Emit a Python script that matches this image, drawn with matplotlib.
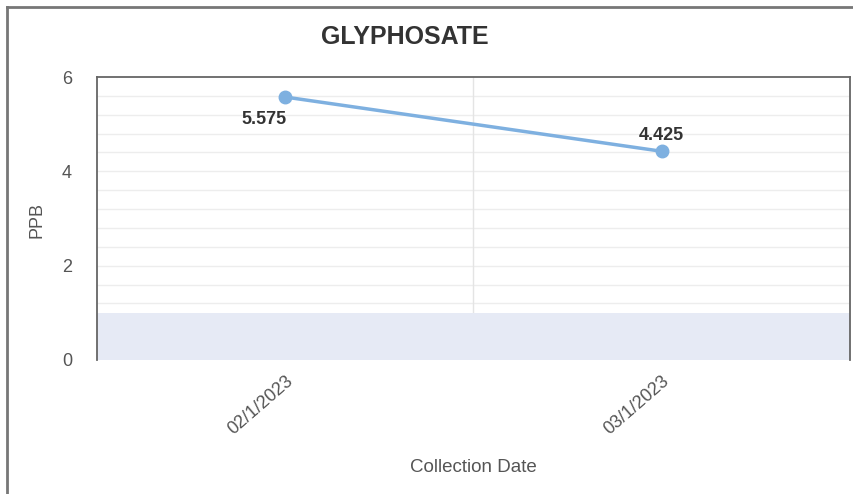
import numpy as np
import matplotlib
matplotlib.use("Agg")
import matplotlib.pyplot as plt

plt.rcParams['font.family'] = ['Liberation Sans', 'DejaVu Sans']

dates = ["02/1/2023", "03/1/2023"]
ppb = [5.575, 4.425]
band_top = 1.0

fig = plt.figure(figsize=(8.54, 4.94), dpi=100)
ax = fig.add_axes([97/854, 1-360/494, 753/854, 283/494])

x = np.arange(len(dates))
ax.axhspan(0, band_top, color="#e6eaf5", zorder=1, lw=0)
for yy in np.arange(0.4, 6.0, 0.4):
    if yy > band_top:
        ax.axhline(yy, color="#ededed", lw=1, zorder=0)
ax.axvline(0.5, color="#e4e4e4", lw=1, zorder=0)

ax.plot(x, ppb, color="#7eb0e0", lw=2.5, marker="o", ms=9, zorder=3)
ax.annotate(f"{ppb[0]}", (x[0], ppb[0]), xytext=(-15, -16.5), textcoords="offset points",
            ha="center", va="center", fontsize=13, fontweight="bold", color="#333333")
ax.annotate(f"{ppb[1]}", (x[1], ppb[1]), xytext=(0, 11.5), textcoords="offset points",
            ha="center", va="center", fontsize=13, fontweight="bold", color="#333333")

ax.set_xlim(-0.5, 1.5)
ax.set_ylim(0, 6)
ax.set_yticks([0, 2, 4, 6])
ax.set_xticks(x)
ax.set_xticklabels(dates, rotation=41, ha="right", rotation_mode="anchor")
ax.tick_params(length=0, labelsize=13, labelcolor="#555555", pad=9)
ax.tick_params(axis="y", pad=18)

for s in ["top", "left", "right"]:
    ax.spines[s].set_color("#666666")
    ax.spines[s].set_linewidth(1.3)
ax.spines["bottom"].set_visible(False)

ax.set_ylabel("PPB", fontsize=13, color="#555555")
ax.yaxis.set_label_coords(-0.069, 0.495)
ax.set_xlabel("Collection Date", fontsize=13.5, color="#555555", labelpad=15)

fig.text(405/854, 1-37/494, "GLYPHOSATE", ha="center", va="center",
         fontsize=18, fontweight="bold", color="#333333")

# outer frame
fig.add_artist(plt.Line2D([7/854, 7/854], [0, 1-7/494], color="#777777", lw=2))
fig.add_artist(plt.Line2D([7/854, 1], [1-7/494, 1-7/494], color="#777777", lw=2))

fig.savefig("out.png", dpi=100)
